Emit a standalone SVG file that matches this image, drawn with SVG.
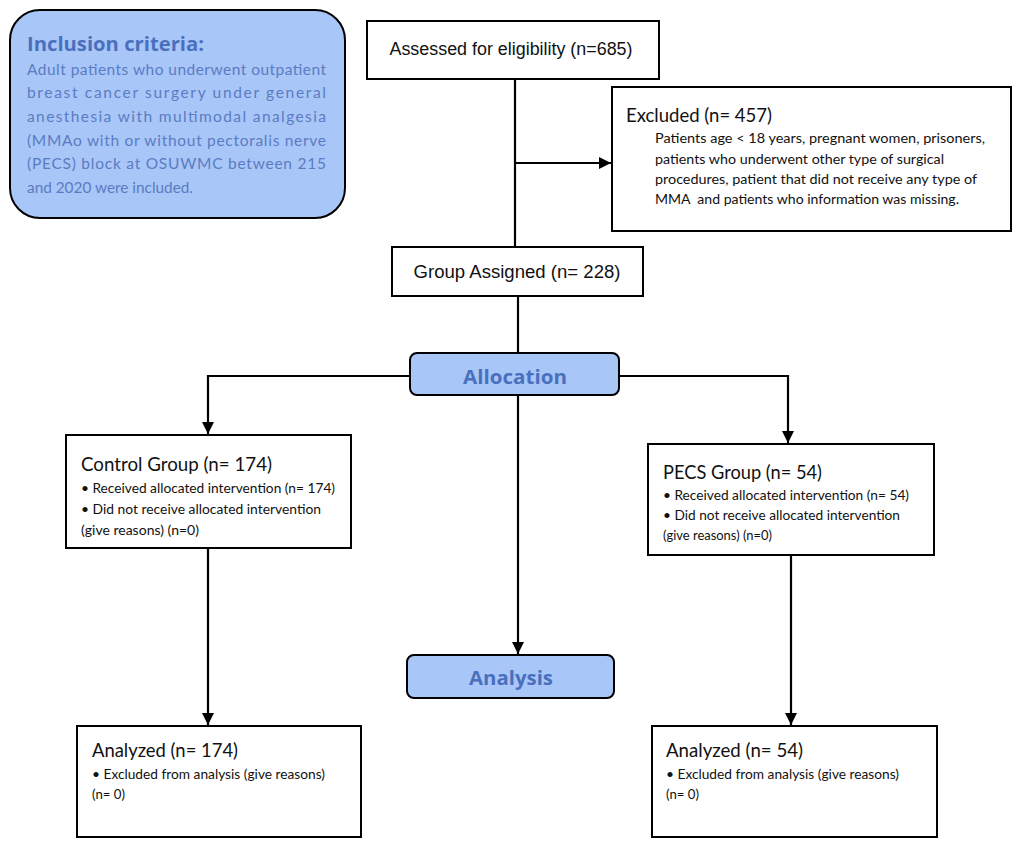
<svg xmlns="http://www.w3.org/2000/svg" width="1021" height="844" viewBox="0 0 1021 844">
<defs>
<marker id="arr" viewBox="0 0 12 12" refX="12" refY="6" markerWidth="12" markerHeight="12" markerUnits="userSpaceOnUse" orient="auto">
<path d="M0,0 L12,6 L0,12 z" fill="#000"/>
</marker>
<style>
.box{fill:#fff;stroke:#000;stroke-width:2}
.blue{fill:#a8c6f8;stroke:#000;stroke-width:2}
.ln{fill:none;stroke:#000;stroke-width:2.2}
.ar{fill:none;stroke:#000;stroke-width:2.2;marker-end:url(#arr)}
.ari{font-family:"Liberation Sans",Arial,sans-serif;fill:#111}
.cal{font-family:Lato,"Open Sans",sans-serif;fill:#111}
.t1{font-size:19px}
.t2{font-size:13.5px}
.inc{font-family:Lato,"Open Sans",sans-serif;fill:#5b7cc2;font-size:15.5px}
.inct{font-family:"Open Sans",Lato,sans-serif;font-weight:bold;fill:#4a70bd;font-size:20px}
.hdr{font-family:"Open Sans",Lato,sans-serif;font-weight:bold;fill:#4a70bd;font-size:20px}
</style>
</defs>
<rect width="1021" height="844" fill="#fff"/>
<g id="connectors">
<path class="ln" d="M515,79 V247"/>
<path class="ar" d="M515,163 H611"/>
<path class="ln" d="M518,296 V353"/>
<path class="ln" d="M410,376 H208"/>
<path class="ar" d="M208,375 V434"/>
<path class="ln" d="M619,376 H788"/>
<path class="ar" d="M788,375 V443"/>
<path class="ar" d="M518,395 V654"/>
<path class="ar" d="M208,548 V725"/>
<path class="ar" d="M791,555 V725"/>
</g>
<g id="inclusion">
<rect class="blue" x="10" y="10" width="335" height="208" rx="30"/>
<text class="inct" x="27" y="51" textLength="177" lengthAdjust="spacingAndGlyphs">Inclusion criteria:</text>
<text class="inc" x="27" y="75" textLength="299" lengthAdjust="spacing">Adult patients who underwent outpatient</text>
<text class="inc" x="27" y="98" textLength="299" lengthAdjust="spacing">breast cancer surgery under general</text>
<text class="inc" x="27" y="122" textLength="299" lengthAdjust="spacing">anesthesia with multimodal analgesia</text>
<text class="inc" x="27" y="146" textLength="299" lengthAdjust="spacing">(MMAo with or without pectoralis nerve</text>
<text class="inc" x="27" y="169" textLength="299" lengthAdjust="spacing">(PECS) block at OSUWMC between 215</text>
<text class="inc" x="27" y="193" textLength="166" lengthAdjust="spacingAndGlyphs">and 2020 were included.</text>
</g>
<g id="assessed">
<rect class="box" x="367" y="21" width="292" height="58"/>
<text class="ari" x="511" y="55" text-anchor="middle" font-size="18" textLength="243" lengthAdjust="spacingAndGlyphs">Assessed for eligibility (n=685)</text>
</g>
<g id="excluded">
<rect class="box" x="612" y="87" width="399" height="144"/>
<text class="cal t1" x="626" y="122" textLength="146" lengthAdjust="spacingAndGlyphs">Excluded (n= 457)</text>
<text class="cal t2" x="655" y="143" textLength="330" lengthAdjust="spacingAndGlyphs">Patients age &lt; 18 years, pregnant women, prisoners,</text>
<text class="cal t2" x="655" y="164" textLength="289" lengthAdjust="spacingAndGlyphs">patients who underwent other type of surgical</text>
<text class="cal t2" x="655" y="184" textLength="322" lengthAdjust="spacingAndGlyphs">procedures, patient that did not receive any type of</text>
<text class="cal t2" x="655" y="204" textLength="304" lengthAdjust="spacingAndGlyphs" xml:space="preserve">MMA  and patients who information was missing.</text>
</g>
<g id="group-assigned">
<rect class="box" x="392" y="247" width="251" height="49"/>
<text class="ari" x="517" y="278" text-anchor="middle" font-size="18" textLength="207" lengthAdjust="spacingAndGlyphs">Group Assigned (n= 228)</text>
</g>
<g id="allocation">
<rect class="blue" x="410" y="353" width="209" height="42" rx="7"/>
<text class="hdr" x="515" y="384" text-anchor="middle" textLength="104" lengthAdjust="spacingAndGlyphs">Allocation</text>
</g>
<g id="control">
<rect class="box" x="66" y="435" width="285" height="113"/>
<text class="cal t1" x="81" y="471" textLength="191" lengthAdjust="spacingAndGlyphs">Control Group (n= 174)</text>
<text class="cal t2" x="81" y="493" textLength="254" lengthAdjust="spacingAndGlyphs">• Received allocated intervention (n= 174)</text>
<text class="cal t2" x="81" y="514" textLength="240" lengthAdjust="spacingAndGlyphs">• Did not receive allocated intervention</text>
<text class="cal t2" x="81" y="535" textLength="118" lengthAdjust="spacingAndGlyphs">(give reasons) (n=0)</text>
</g>
<g id="pecs">
<rect class="box" x="648" y="444" width="286" height="111"/>
<text class="cal t1" x="663" y="479" textLength="159" lengthAdjust="spacingAndGlyphs">PECS Group (n= 54)</text>
<text class="cal t2" x="663" y="500" textLength="246" lengthAdjust="spacingAndGlyphs">• Received allocated intervention (n= 54)</text>
<text class="cal t2" x="663" y="520" textLength="237" lengthAdjust="spacingAndGlyphs">• Did not receive allocated intervention</text>
<text class="cal t2" x="663" y="540" textLength="109" lengthAdjust="spacingAndGlyphs">(give reasons) (n=0)</text>
</g>
<g id="analysis">
<rect class="blue" x="407" y="655" width="207" height="43" rx="7"/>
<text class="hdr" x="511" y="685" text-anchor="middle" textLength="84" lengthAdjust="spacingAndGlyphs">Analysis</text>
</g>
<g id="analyzed-control">
<rect class="box" x="77" y="726" width="284" height="111"/>
<text class="cal t1" x="92" y="757" textLength="146" lengthAdjust="spacingAndGlyphs">Analyzed (n= 174)</text>
<text class="cal t2" x="92" y="779" textLength="233" lengthAdjust="spacingAndGlyphs">• Excluded from analysis (give reasons)</text>
<text class="cal t2" x="92" y="799" textLength="33" lengthAdjust="spacingAndGlyphs">(n= 0)</text>
</g>
<g id="analyzed-pecs">
<rect class="box" x="652" y="726" width="285" height="111"/>
<text class="cal t1" x="666" y="757" textLength="137" lengthAdjust="spacingAndGlyphs">Analyzed (n= 54)</text>
<text class="cal t2" x="666" y="779" textLength="233" lengthAdjust="spacingAndGlyphs">• Excluded from analysis (give reasons)</text>
<text class="cal t2" x="666" y="799" textLength="33" lengthAdjust="spacingAndGlyphs">(n= 0)</text>
</g>
</svg>
